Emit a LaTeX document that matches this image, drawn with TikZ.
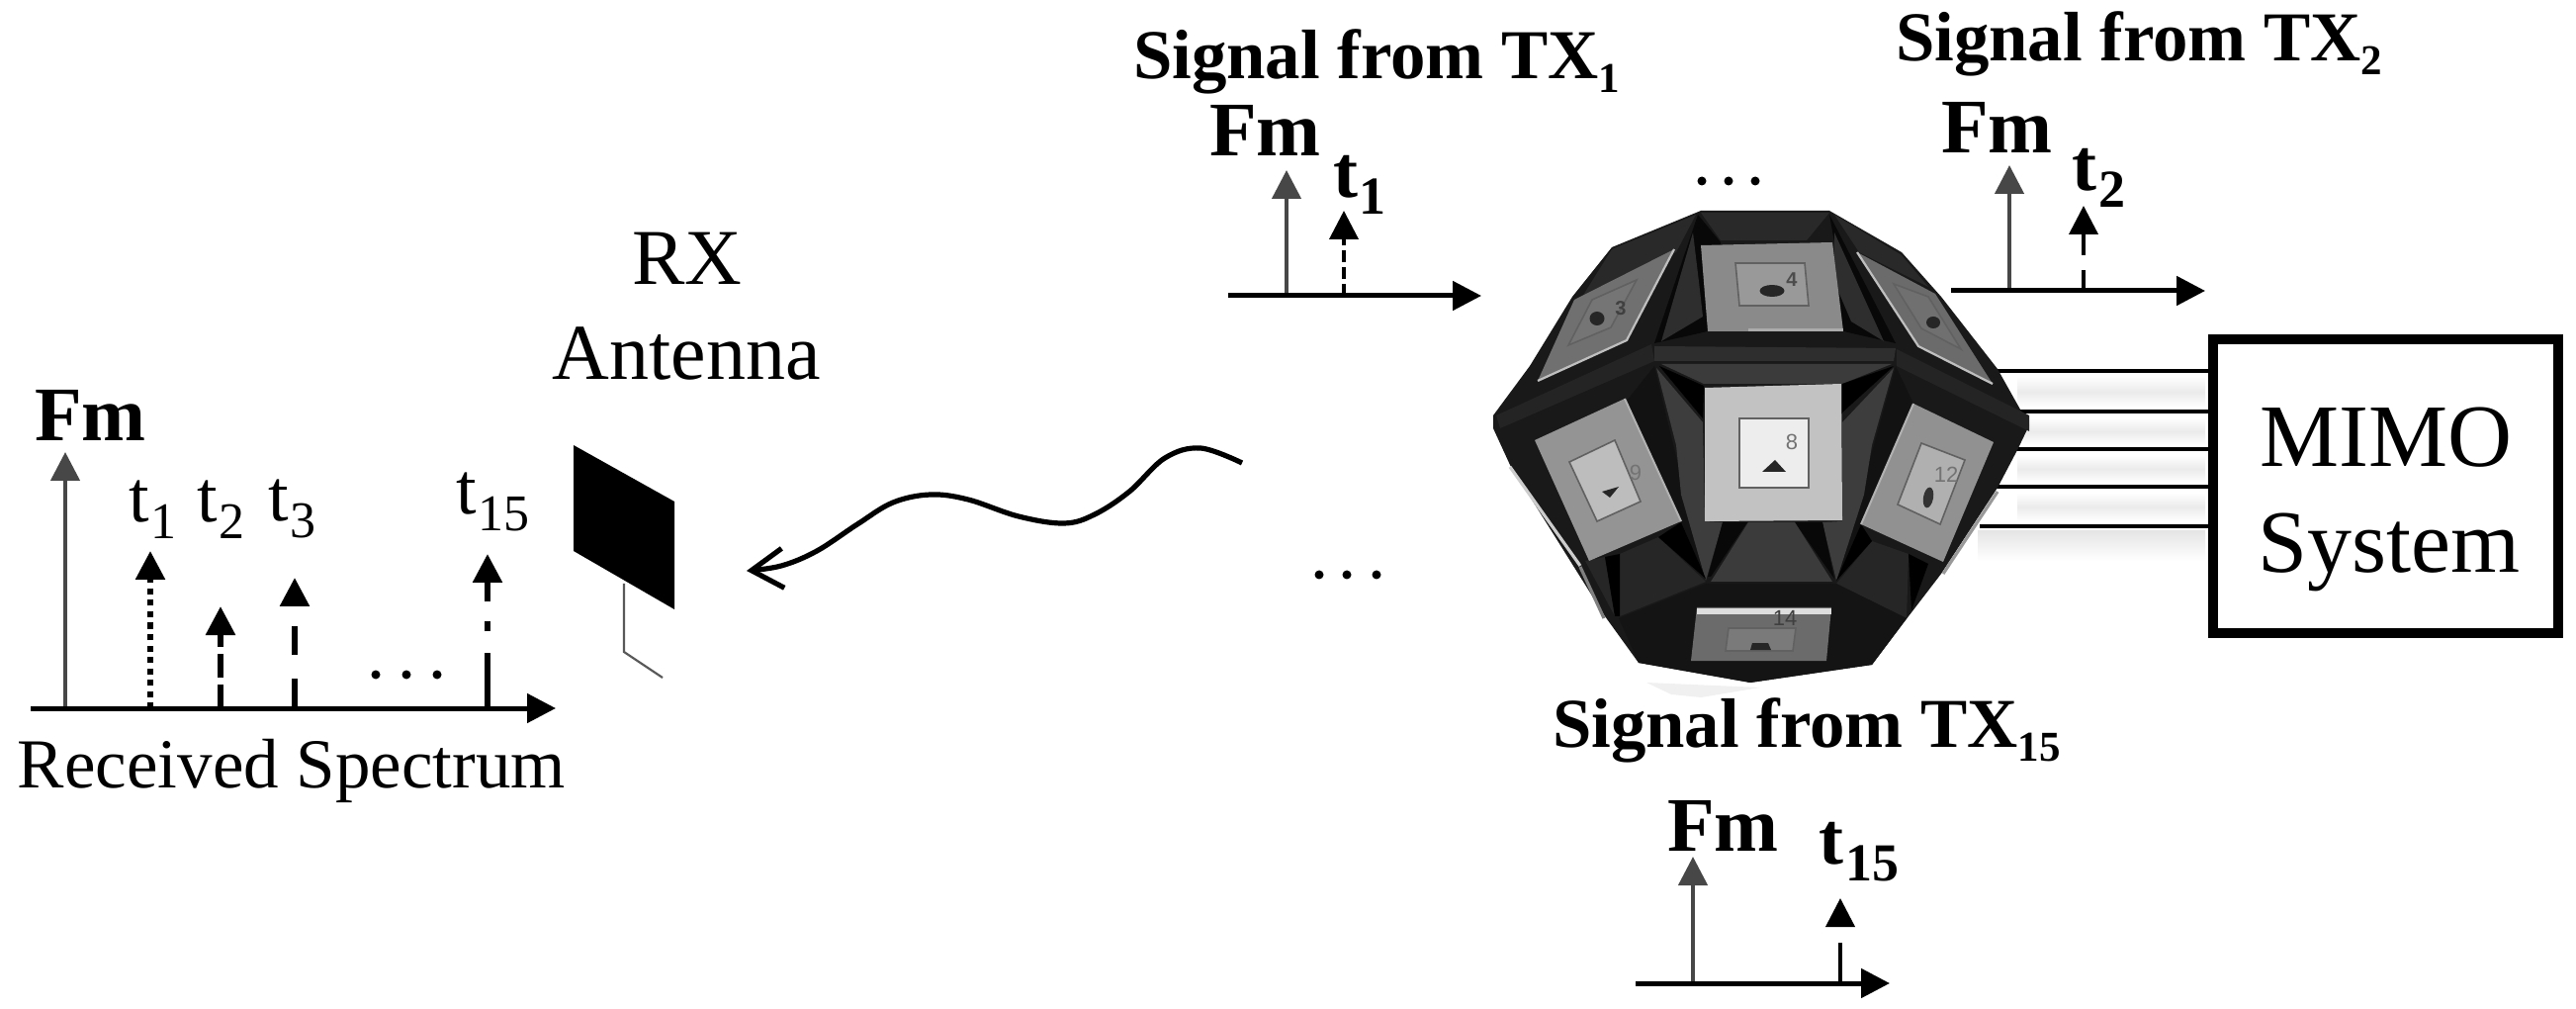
\documentclass[tikz,border=0pt]{standalone}
\usepackage{fontspec}
\setmainfont{Liberation Serif}
\newfontfamily\dsans{Liberation Sans}
\usetikzlibrary{arrows.meta}
\newcommand{\fs}[1]{\fontsize{#1}{#1}\selectfont}
\newcommand{\rsub}[1]{\kern1pt\raisebox{-8.5pt}{\fs{26}#1}}
\newcommand{\bsub}[1]{\kern1pt\raisebox{-8.5pt}{\fs{27}\bfseries #1}}
\newcommand{\txsub}[1]{\raisebox{-7pt}{\fs{21.5}#1}}
\tikzset{
  txt/.style={inner sep=0pt,outer sep=0pt,anchor=base west},
  regt/.style={txt,font=\fs{37}},
  boldt/.style={txt,font=\fs{37.5}\bfseries},
  fmlab/.style={txt,font=\fs{39}\bfseries},
  sigtxt/.style={txt,font=\fs{35.4}\bfseries},
  bigtxt/.style={txt,anchor=base,font=\fs{40}},
  mimotxt/.style={txt,anchor=base,font=\fs{45}},
  axisline/.style={line width=2.5pt,black,-{Triangle[length=14.5pt,width=14.5pt]}},
  fmline/.style={line width=2.2pt,black!72,-{Triangle[length=14.5pt,width=14.5pt]}},
  pulse/.style={line width=2.9pt,black,-{Triangle[length=14.5pt,width=14.5pt]}},
  thinpulse/.style={pulse,line width=2pt},
  wire/.style={line width=1.9pt,black},
  paneledge/.style={line width=1.1pt,black!25},
  inneredge/.style={fill=#1,draw=black!62,line width=.8pt},
  pdot/.style={circle,fill=black,inner sep=0pt,minimum size=4.5pt},
  pnum/.style={inner sep=0pt,font=\dsans\fs{11},text=black!55}
}
\begin{document}
\begin{tikzpicture}[x=.5pt,y=-.5pt]
\useasboundingbox (0,0) rectangle (2605,1020);

% ---------- received spectrum
\coordinate (ax0) at (31,716); \coordinate (ax1) at (562,716);
\coordinate (fy0) at (66,716); \coordinate (fy1) at (66,457);
\coordinate (p1a) at (152,716); \coordinate (p1b) at (152,557);
\coordinate (p2a) at (223,716); \coordinate (p2b) at (223,613);
\coordinate (p3a) at (298,716); \coordinate (p3b) at (298,584);
\coordinate (p4a) at (493,716); \coordinate (p4b) at (493,560);
\draw[fmline] (fy0) -- (fy1);
\draw[pulse,dash pattern=on 3pt off 2.75pt] (p1a) -- (p1b);
\draw[pulse,dash pattern=on 12pt off 3.5pt] (p2a) -- (p2b);
\draw[pulse,dash pattern=on 15pt off 12pt on 14.5pt off 30pt] (p3a) -- (p3b);
\draw[pulse,dash pattern=on 28pt off 11pt on 5pt off 10pt on 30pt off 3pt] (p4a) -- (p4b);
\draw[axisline] (ax0) -- (ax1);
\node[pdot] (d1) at (380,682) {}; \node[pdot] (d2) at (411,682) {}; \node[pdot] (d3) at (442,682) {};
\node[fmlab] (fm0) at (35,446) {Fm};
\node[regt] (t1) at (130,528) {t\rsub{1}};
\node[regt] (t2) at (199,528) {t\rsub{2}};
\node[regt] (t3) at (271,527) {t\rsub{3}};
\node[regt] (t15) at (461,520) {t\rsub{15}};
\node[txt,font=\fs{35.5}] (rs) at (18,796) {Received Spectrum};

% ---------- RX antenna
\node[bigtxt] (rx) at (695,288) {RX};
\node[bigtxt] (ant) at (694,384) {Antenna};
\fill[black] (580,450) -- (682,507) -- (682,616) -- (580,557) -- cycle;
\coordinate (f0) at (631,590); \coordinate (f1) at (631,659); \coordinate (f2) at (670,685);
\draw[line width=1.1pt,black!65] (f0) -- (f1) -- (f2);
\draw[line width=2.6pt,-{Straight Barb[length=16pt,width=20pt,line width=2.6pt]}]
  plot[smooth,tension=.6] coordinates {(1256,468) (1214,453) (1178,463) (1142,497) (1107,520) (1076,529) (1030,522) (979,505) (941,500) (903,508) (867,530) (826,557) (790,572) (755,577)};
\node[pdot] (c1) at (1334,581) {}; \node[pdot] (c2) at (1362,581) {}; \node[pdot] (c3) at (1392,581) {};
\node[pdot] (u1) at (1721,183) {}; \node[pdot] (u2) at (1748,183) {}; \node[pdot] (u3) at (1775,183) {};

% ---------- TX1 signal
\node[sigtxt] (s1) at (1146,80) {Signal from TX\txsub{1}};
\node[fmlab] (fm1) at (1223,158) {Fm};
\node[boldt] (t1b) at (1348,200) {t\bsub{1}};
\coordinate (a1a) at (1242,299); \coordinate (a1b) at (1498,299);
\coordinate (a1c) at (1301,299); \coordinate (a1d) at (1301,172);
\coordinate (a1e) at (1359,299); \coordinate (a1f) at (1359,213);
\draw[fmline] (a1c) -- (a1d);
\draw[thinpulse,dash pattern=on 6pt off 2.5pt] (a1e) -- (a1f);
\draw[axisline] (a1a) -- (a1b);

% ---------- TX2 signal
\node[sigtxt] (s2) at (1917,62) {Signal from TX\txsub{2}};
\node[fmlab] (fm2) at (1963,155) {Fm};
\node[boldt] (t2b) at (2095,193) {t\bsub{2}};
\coordinate (a2a) at (1973,294); \coordinate (a2b) at (2230,294);
\coordinate (a2c) at (2032,294); \coordinate (a2d) at (2032,167);
\coordinate (a2e) at (2107,294); \coordinate (a2f) at (2107,208);
\draw[fmline] (a2c) -- (a2d);
\draw[thinpulse,dash pattern=on 10.5pt off 7.5pt on 11pt off 30pt] (a2e) -- (a2f);
\draw[axisline] (a2a) -- (a2b);

% ---------- TX15 signal
\node[sigtxt] (s15) at (1570,755) {Signal from TX\txsub{15}};
\node[fmlab] (fm15) at (1686,860) {Fm};
\node[boldt] (t15b) at (1839,873) {t\bsub{15}};
\coordinate (a3a) at (1654,994); \coordinate (a3b) at (1911,994);
\coordinate (a3c) at (1712,994); \coordinate (a3d) at (1712,866);
\coordinate (a3e) at (1861,994); \coordinate (a3f) at (1861,908);
\draw[fmline] (a3c) -- (a3d);
\draw[thinpulse,dash pattern=on 20.5pt off 30pt] (a3e) -- (a3f);
\draw[axisline] (a3a) -- (a3b);

% ---------- MIMO box and wires
\foreach \ya/\yb in {380/412,422/450,460/488,498/527}{
  \shade[top color=white,bottom color=white,middle color=black!8] (2040,\ya) rectangle (2230,\yb);
}
\shade[top color=black!10,bottom color=white] (2000,537) rectangle (2230,567);
\node[draw=black,line width=5pt,fill=white,minimum width=174.5pt,minimum height=148.5pt,inner sep=0pt] (mimo) at (2412.5,491.5) {};
\node[mimotxt] (m1) at (2413,472) {MIMO};
\node[mimotxt] (m2) at (2416,579) {System};
\coordinate (w1) at (2000,375); \coordinate (w2) at (2030,416); \coordinate (w3) at (2030,454);
\coordinate (w4) at (2000,492); \coordinate (w5) at (2002,532);
\draw[wire] (w1) -- (w1-|mimo.west);
\draw[wire] (w2) -- (w2-|mimo.west);
\draw[wire] (w3) -- (w3-|mimo.west);
\draw[wire] (w4) -- (w4-|mimo.west);
\draw[wire] (w5) -- (w5-|mimo.west);

% ---------- antenna array polyhedron
\fill[black!6] (1665,690) -- (1780,695) -- (1720,705) -- (1690,702) -- cycle;
% outline
\fill[black!90] (1720,213) -- (1850,213) -- (1923,255) -- (1963,300) -- (2020,373) -- (2052,430) -- (2040,455) -- (2020,493) -- (1963,580) -- (1930,623) -- (1893,672) -- (1770,690) -- (1657,670) -- (1623,623) -- (1527,470) -- (1510,433) -- (1510,420) -- (1547,370) -- (1590,300) -- (1630,250) -- cycle;
% upper facets
\fill[black!84] (1720,215) -- (1850,215) -- (1827,243) -- (1740,243) -- cycle;
\fill[black!97] (1717,217) -- (1740,245) -- (1727,335) -- (1673,347) -- cycle;
\fill[black!82] (1712,235) -- (1718,285) -- (1722,320) -- (1680,345) -- cycle;
\fill[black!97] (1850,217) -- (1855,245) -- (1864,335) -- (1917,347) -- cycle;
\fill[black!82] (1855,235) -- (1855,285) -- (1872,325) -- (1905,345) -- cycle;
\fill[black!84] (1630,252) -- (1715,217) -- (1695,255) -- (1600,300) -- cycle;
\fill[black!84] (1855,217) -- (1923,258) -- (1950,290) -- (1880,255) -- cycle;
% central band
\fill[black!90] (1727,335) -- (1864,335) -- (1913,348) -- (1675,348) -- cycle;
\fill[black!82] (1673,350) -- (1917,352) -- (1915,365) -- (1673,365) -- cycle;
\fill[black!77] (1680,368) -- (1913,368) -- (1863,388) -- (1723,388) -- cycle;
\fill[black!86] (1513,420) -- (1670,348) -- (1673,365) -- (1517,433) -- cycle;
\fill[black!90] (1517,435) -- (1672,368) -- (1647,403) -- (1552,443) -- cycle;
\fill[black!86] (1918,353) -- (2052,420) -- (2052,436) -- (1918,370) -- cycle;
\fill[black!90] (1918,372) -- (2040,435) -- (2020,447) -- (1935,408) -- cycle;
% flanks of the centre panel
\fill[black!93] (1673,370) -- (1645,405) -- (1700,527) -- (1725,587) -- cycle;
\fill[black!76] (1675,372) -- (1722,427) -- (1724,527) -- (1742,528) -- (1725,587) -- (1700,500) -- (1695,450) -- cycle;
\fill[black!93] (1917,370) -- (1935,408) -- (1882,530) -- (1857,587) -- cycle;
\fill[black!76] (1915,372) -- (1863,427) -- (1863,527) -- (1843,528) -- (1857,587) -- (1885,500) -- (1893,450) -- cycle;
\fill[black] (1678,370) -- (1723,390) -- (1722,423) -- cycle;
\fill[black] (1915,370) -- (1863,388) -- (1863,417) -- cycle;
% lower facets
\fill[black!97] (1742,528) -- (1767,528) -- (1730,583) -- (1727,583) -- cycle;
\fill[black!97] (1815,528) -- (1843,528) -- (1855,585) -- cycle;
\fill[black!77] (1768,528) -- (1815,528) -- (1853,588) -- (1730,588) -- cycle;
\fill[black!85] (1638,560) -- (1677,543) -- (1725,588) -- (1638,623) -- cycle;
\fill[black] (1677,543) -- (1700,528) -- (1725,585) -- cycle;
\fill[black!85] (1603,567) -- (1623,563) -- (1633,623) -- cycle;
\fill[black] (1623,563) -- (1638,560) -- (1638,623) -- (1633,623) -- cycle;
\fill[black!85] (1857,590) -- (1893,547) -- (1930,560) -- (1928,625) -- cycle;
\fill[black] (1882,530) -- (1893,547) -- (1857,587) -- cycle;
\fill[black] (1930,560) -- (1933,617) -- (1950,570) -- cycle;
\fill[black!92] (1725,590) -- (1857,590) -- (1928,625) -- (1893,672) -- (1770,690) -- (1657,670) -- (1637,625) -- cycle;
% edge strips
\draw[line width=1.6pt,black!20] (1527,472) -- (1598,572);
\draw[line width=1.6pt,black!50] (1598,573) -- (1622,625);
\draw[line width=1.6pt,black!40] (2020,497) -- (1965,580);
% top panel
\fill[black!46] (1720,248) -- (1853,245) -- (1864,335) -- (1727,335) -- cycle;
\fill[black!33] (1768,332) -- (1864,332) -- (1864,335) -- (1768,335) -- cycle;
\fill[inneredge=black!40] (1755,266) -- (1825,266) -- (1829,309) -- (1759,309) -- cycle;
\fill[black!85] (1792,294) ellipse (12.5 and 6);
\node[pnum,font=\dsans\bfseries\fs{10},text=black!70] (n4) at (1812,283) {4};
% upper left panel
\fill[black!56] (1693,252) -- (1645,344) -- (1555,385) -- (1592,303) -- cycle;
\draw[paneledge] (1693,252) -- (1645,344) -- (1555,385);
\fill[inneredge=black!54] (1655,283) -- (1629,331) -- (1586,349) -- (1610,303) -- cycle;
\fill[black!85] (1615,322) ellipse (7.5 and 7);
\node[pnum,font=\dsans\bfseries\fs{10},text=black!75] (n3) at (1639,312) {3};
% upper right panel
\fill[black!58] (1878,255) -- (1957,297) -- (2015,388) -- (1940,350) -- cycle;
\draw[paneledge] (1878,255) -- (1940,350) -- (2015,388);
\fill[inneredge=black!56] (1915,287) -- (1950,300) -- (1983,353) -- (1943,332) -- cycle;
\fill[black!85] (1955,326) ellipse (7 and 6);
% centre panel
\fill[black!24] (1724,392) -- (1862,388) -- (1863,526) -- (1724,527) -- cycle;
\fill[inneredge=black!7] (1759,423) -- (1829,423) -- (1829,493) -- (1759,493) -- cycle;
\fill[black!85] (1782,477) -- (1795,465) -- (1806,477) -- cycle;
\node[pnum] (n8) at (1812,447) {8};
% left panel
\fill[black!42] (1552,445) -- (1643,403) -- (1700,527) -- (1607,567) -- cycle;
\draw[line width=1pt,black!30] (1643,403) -- (1700,527);
\fill[inneredge=black!26] (1587,467) -- (1633,445) -- (1659,507) -- (1615,527) -- cycle;
\fill[black!85] (1620,497) -- (1637,492) -- (1628,503) -- cycle;
\node[pnum] (n9) at (1654,478) {9};
% right panel
\fill[black!43] (1935,408) -- (2016,447) -- (1965,568) -- (1882,530) -- cycle;
\draw[line width=1pt,black!30] (1935,408) -- (1882,530);
\fill[inneredge=black!31] (1943,448) -- (1987,465) -- (1962,530) -- (1919,510) -- cycle;
\fill[black!80,rotate around={-10:(1950,503)}] (1950,503) ellipse (5 and 10.5);
\node[pnum] (n12) at (1968,480) {12};
% bottom panel
\fill[black!58] (1716,614) -- (1852,614) -- (1847,668) -- (1710,668) -- cycle;
\fill[black!13] (1716,615) rectangle (1852,621);
\fill[inneredge=black!52] (1748,635) -- (1816,635) -- (1813,658) -- (1745,658) -- cycle;
\fill[black!85] (1770,657) -- (1772,650) -- (1788,650) -- (1791,657) -- cycle;
\node[pnum,text=black!75] (n14) at (1805,625) {14};
\end{tikzpicture}
\end{document}
